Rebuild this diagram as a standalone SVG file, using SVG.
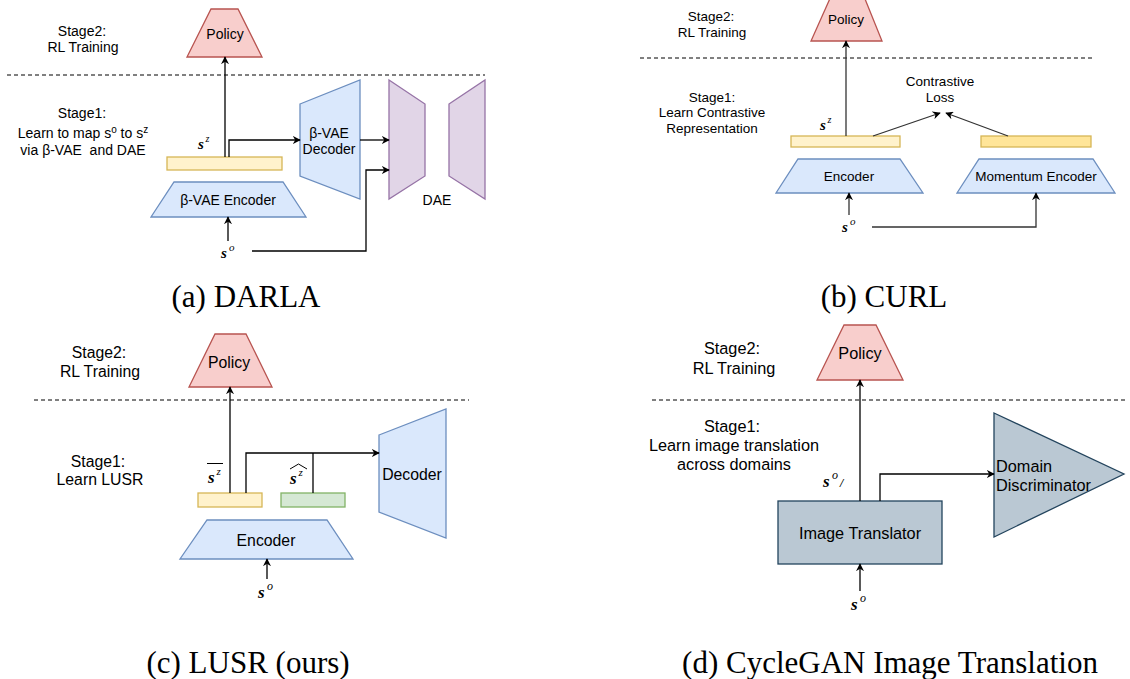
<svg xmlns="http://www.w3.org/2000/svg" width="1130" height="679" viewBox="0 0 1130 679">
<style>
.t{font-family:"Liberation Sans",Arial,sans-serif;fill:#000;text-anchor:middle}
.a{font-size:14px}.b{font-size:13.5px}.c{font-size:15.8px}.d{font-size:16.3px}
.cap{font-family:"Liberation Serif","Times New Roman",serif;font-size:31px;fill:#000;text-anchor:middle}
.m{font-family:"Liberation Serif","Times New Roman",serif;font-style:italic;font-weight:bold;fill:#000}
.sup{font-family:"Liberation Serif","Times New Roman",serif;font-style:italic;fill:#000}
.pol{fill:#f8cecc;stroke:#b85450;stroke-width:1.3}
.blu{fill:#dae8fc;stroke:#6c8ebf;stroke-width:1.3}
.yel{fill:#fff2cc;stroke:#d6b656;stroke-width:1.3}
.yel2{fill:#ffe599;stroke:#d6b656;stroke-width:1.3}
.grn{fill:#d5e8d4;stroke:#82b366;stroke-width:1.3}
.pur{fill:#e1d5e7;stroke:#9673a6;stroke-width:1.3}
.gry{fill:#bac8d3;stroke:#23445d;stroke-width:1.3}
.dash{stroke:#000;stroke-width:1;stroke-dasharray:4 3;fill:none}
.ln{stroke:#000;stroke-width:1.3;fill:none}
.lg{stroke:#333;stroke-width:1.3;fill:none}
.ar{marker-end:url(#arr)}
</style>
<defs>
<marker id="arr" viewBox="0 0 10 10" refX="9" refY="5" markerWidth="8" markerHeight="8" markerUnits="userSpaceOnUse" orient="auto">
<path d="M0,0 L10,5 L0,10 L3,5 z" fill="#000"/>
</marker>
</defs>
<rect width="1130" height="679" fill="#fff"/>

<!-- Panel (a) DARLA -->
<g id="a-stage2"><text class="t a" x="82" y="36">Stage2:</text><text class="t a" x="83" y="52">RL Training</text></g>
<g id="a-stage1"><text class="t a" x="82" y="118">Stage1:</text>
<text class="t a" x="83" y="138">Learn to map s<tspan font-size="10" dy="-5">o</tspan><tspan dy="5"> to s</tspan><tspan font-size="10" dy="-5">z</tspan></text>
<text class="t a" x="83" y="155" xml:space="preserve">via β-VAE  and DAE</text></g>
<g id="a-policy"><polygon class="pol" points="211,9 238,9 262,57 187,57"/><text class="t a" x="225" y="39">Policy</text></g>
<line class="dash" x1="7" y1="75" x2="485" y2="75"/>
<g id="a-sz"><rect class="yel" x="167" y="157" width="115" height="13"/></g>
<g id="a-encoder"><polygon class="blu" points="174,182 283,182 306,217 151,217"/><text class="t a" x="228" y="205">β-VAE Encoder</text></g>
<g id="a-decoder"><polygon class="blu" points="300,104 360,80 360,199 300,176"/><text class="t a" x="329" y="138">β-VAE</text><text class="t a" x="329" y="154">Decoder</text></g>
<g id="a-dae"><polygon class="pur" points="389,80 425,104 425,176 389,199"/><polygon class="pur" points="449,104 485,80 485,199 449,176"/><text class="t a" x="437" y="205">DAE</text></g>
<g id="a-labels">
<text class="m" x="198" y="149" font-size="15">s</text><text class="sup" x="205.5" y="142" font-size="10">z</text>
<text class="m" x="221" y="258" font-size="15">s</text><text class="sup" x="229" y="251" font-size="11">o</text>
</g>
<text class="cap" x="246" y="307">(a) DARLA</text>

<!-- Panel (b) CURL -->
<g id="b-stage2"><text class="t b" x="711" y="21">Stage2:</text><text class="t b" x="712" y="37">RL Training</text></g>
<g id="b-stage1"><text class="t b" x="712" y="102">Stage1:</text><text class="t b" x="712" y="117">Learn Contrastive</text><text class="t b" x="712" y="133">Representation</text></g>
<g id="b-policy"><polygon class="pol" points="832,-6 863,-6 882,41 811,41"/><text class="t b" x="846" y="24">Policy</text></g>
<line class="dash" x1="640" y1="58" x2="1092" y2="58"/>
<g id="b-loss"><text class="t b" x="940" y="86">Contrastive</text><text class="t b" x="940" y="102">Loss</text></g>
<g id="b-sz"><rect class="yel" x="791" y="136" width="109" height="11"/></g>
<g id="b-sz2"><rect class="yel2" x="981" y="136" width="110" height="11"/></g>
<g id="b-encoder"><polygon class="blu" points="798,159 900,159 923,193 776,193"/><text class="t b" x="849" y="181">Encoder</text></g>
<g id="b-momentum"><polygon class="blu" points="979,159 1093,159 1115,193 957,193"/><text class="t b" x="1036" y="181">Momentum Encoder</text></g>
<g id="b-labels">
<text class="m" x="820" y="130" font-size="15">s</text><text class="sup" x="827.5" y="123" font-size="10">z</text>
<text class="m" x="842" y="232" font-size="15">s</text><text class="sup" x="850" y="225" font-size="11">o</text>
</g>
<text class="cap" x="884" y="307">(b) CURL</text>

<!-- Panel (c) LUSR -->
<g id="c-stage2"><text class="t c" x="99" y="358">Stage2:</text><text class="t c" x="100" y="377">RL Training</text></g>
<g id="c-stage1"><text class="t c" x="98" y="467">Stage1:</text><text class="t c" x="100" y="485">Learn LUSR</text></g>
<g id="c-policy"><polygon class="pol" points="215,334 246,334 272,387 189,387"/><text class="t c" x="229" y="368">Policy</text></g>
<line class="dash" x1="34" y1="400" x2="469" y2="400"/>
<g id="c-bar1"><rect class="yel" x="198" y="493" width="64" height="14"/></g>
<g id="c-bar2"><rect class="grn" x="281" y="493" width="64" height="14"/></g>
<g id="c-encoder"><polygon class="blu" points="207,520 327,520 353,559 180,559"/><text class="t c" x="266" y="546">Encoder</text></g>
<g id="c-decoder"><polygon class="blu" points="379,435 446,409 446,538 379,512"/><text class="t c" x="412" y="480">Decoder</text></g>
<g id="c-labels">
<line x1="207" y1="463.5" x2="223" y2="463.5" stroke="#000" stroke-width="1"/>
<text class="m" x="208" y="483" font-size="17">s</text><text class="sup" x="216.5" y="475" font-size="11">z</text>
<polyline points="290,469 298.5,464 307,469" fill="none" stroke="#000" stroke-width="1"/>
<text class="m" x="290" y="484" font-size="17">s</text><text class="sup" x="298.5" y="476" font-size="11">z</text>
<text class="m" x="258" y="598" font-size="17">s</text><text class="sup" x="267" y="590" font-size="12">o</text>
</g>
<text class="cap" x="248" y="673">(c) LUSR (ours)</text>

<!-- Panel (d) CycleGAN -->
<g id="d-stage2"><text class="t d" x="732" y="354">Stage2:</text><text class="t d" x="734" y="374">RL Training</text></g>
<g id="d-stage1"><text class="t d" x="732" y="432">Stage1:</text><text class="t d" x="734" y="451">Learn image translation</text><text class="t d" x="734" y="470">across domains</text></g>
<g id="d-policy"><polygon class="pol" points="844,325 876,325 903,380 817,380"/><text class="t d" x="860" y="359">Policy</text></g>
<line class="dash" x1="652" y1="400" x2="1128" y2="400"/>
<g id="d-translator"><rect class="gry" x="778" y="501" width="164" height="63"/><text class="t d" x="860" y="539">Image Translator</text></g>
<g id="d-discriminator"><polygon class="gry" points="994,413 1124,474 994,537"/><text class="t d" x="996" y="472" text-anchor="start" style="text-anchor:start">Domain</text><text class="t d" x="996" y="491" style="text-anchor:start">Discriminator</text></g>
<g id="d-labels">
<text class="m" x="823" y="487" font-size="17">s</text><text class="sup" x="832" y="479" font-size="12">o</text><text class="m" x="840" y="487" font-size="12">/</text>
<text class="m" x="851" y="610" font-size="17">s</text><text class="sup" x="860" y="602" font-size="12">o</text>
</g>
<text class="cap" x="890" y="673">(d) CycleGAN Image Translation</text>

<!-- Connectors -->
<g id="connectors">
<path class="ln ar" d="M225,157 V57"/>
<path class="ln ar" d="M229,157 V140 H300"/>
<path class="ln ar" d="M360,140 H389"/>
<path class="ln ar" d="M252,251 H366 V170 H389"/>
<path class="ln ar" d="M228,241 V217"/>

<path class="lg ar" d="M846,136 V41"/>
<path class="lg ar" d="M873,136 L940,113"/>
<path class="lg ar" d="M1008,136 L946,113"/>
<path class="lg ar" d="M849,215 V193"/>
<path class="lg ar" d="M872,227 H1036 V193"/>

<path class="ln ar" d="M230,493 V387"/>
<path class="ln ar" d="M246,493 V453 H379"/>
<path class="ln" d="M313,493 V453"/>
<path class="ln ar" d="M267,579 V559"/>

<path class="ln ar" d="M860,501 V380"/>
<path class="ln ar" d="M880,501 V474 H994"/>
<path class="ln ar" d="M860,591 V564"/>
</g>
</svg>
